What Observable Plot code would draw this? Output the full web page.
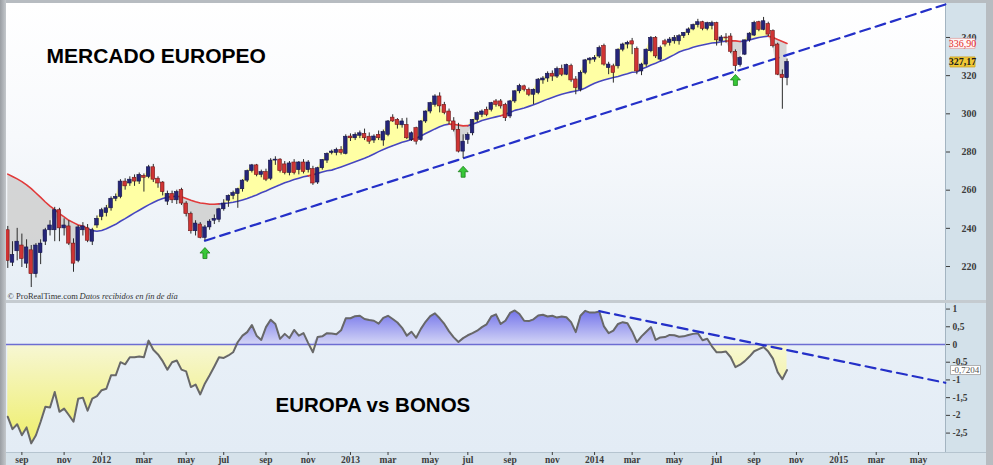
<!DOCTYPE html>
<html><head><meta charset="utf-8">
<script src="https://cdn.jsdelivr.net/npm/d3@7"></script>
<script src="https://cdn.jsdelivr.net/npm/@observablehq/plot@0.6"></script>
<style>
html,body{margin:0;padding:0;background:#fff}
#wrap{position:relative;width:993px;height:465px;background:#b7bcc1;overflow:hidden}
.bg,.plot{position:absolute;box-sizing:border-box}
.plot svg{display:block}
</style></head><body>
<div id="wrap">
  <div class="bg" style="left:0;top:0;width:6px;height:465px;background:linear-gradient(90deg,#9a9ea3,#c4c8cc)"></div>
  <div class="bg" style="left:6px;top:3px;width:939px;height:297px;background:linear-gradient(#ffffff 0%,#f7f9fc 45%,#e6eef5 100%)"></div>
  <div class="bg" style="left:945px;top:3px;width:41px;height:297px;background:#d3e1ea;border-left:1px solid #a3b4c1"></div>
  <div class="bg" style="left:6px;top:300px;width:980px;height:3px;background:#c5cbd0"></div>
  <div class="bg" style="left:6px;top:303px;width:939px;height:149px;background:linear-gradient(#eaf1f8,#e3ecf5)"></div>
  <div class="bg" style="left:945px;top:303px;width:41px;height:149px;background:#d3e1ea;border-left:1px solid #a3b4c1"></div>
  <div class="bg" style="left:6px;top:452px;width:980px;height:13px;background:#d6e2ea;border-top:1px solid #b5c4cf"></div>
  <div class="plot" id="up" style="left:6px;top:3px"></div>
  <div class="plot" id="low" style="left:6px;top:303px"></div>
</div>
<script>
// ---------- data (weekly, first week 2011-08-15) ----------
const firstWeek = "2011-08-15";
const open = [239,222,228,231,221.5,228.5,216,227,233,239,
 239,249.5,240,241,232,223,239,240,233,241.5,
 246,248,250.5,255.5,256.5,264.5,263.5,266.5,264.5,267.5,
 267,272,266,264,254,258,254.7,260,253,247.5,
 238.5,242,235,240.5,244,244.5,250,254.5,257,258,
 260.5,265,270,273,268,269.5,266,275.5,276,273.5,
 269,274.5,270.5,274.5,270.5,271,264,271.5,275.5,279.5,
 279.5,281,279,288.1,287.2,288.5,289.5,288,286,289,
 286,289,298,296.8,294,294.2,286.3,292.5,286.3,296,
 301.2,304.7,309.1,304.7,301.2,296,291.6,280.2,286.3,289.8,
 296.8,299.5,302.1,302.1,306.5,306.5,304.7,298.6,306.5,311.8,
 314.4,312.6,310,310.9,317.5,318.5,321,319.5,323.5,320.5,
 325,318,312.6,321.5,328,328.4,330,335.5,324,324.9,
 324.9,333.6,336.3,338,334,322.2,325.8,332.8,339.8,328.4,
 338,337.2,338,338,340.7,342.4,344.2,346.5,348,344.5,
 346,347.5,338,340,340.5,332.5,325.5,331,338.5,341,
 348,344,347,343.3,336.3,320.5,318.7];
const high = [241,233,240,237,234,231,232,234,240,244,
 251,250.5,245,244,234.5,241.5,243,242,240,246.5,
 250.5,252,256.5,258,265.5,266,267,268,269,268.5,
 273,273.5,267,264.5,259.5,259.5,260,261,254,248.5,
 244,243,241.5,244.5,247,250.5,255,257.5,259.5,261,
 265.5,270.5,273.5,273.5,270.5,271,276.5,277.5,276.5,275,
 275,276,275,276,275.5,272.5,272,276,279.5,281,
 282,282.8,289,289.5,290,291,292,290,289,291,
 291.5,296.5,299.5,297.5,297.5,297.7,290.5,293,296.5,301.5,
 306,310,311,306,302.5,298,295,289,290,297,
 301,302,303.5,306,307.5,307.5,305.5,307,312,315.5,
 315,313.5,313,318.5,319.5,322,322.5,324.5,325.5,326,
 326,319.5,322.5,328.5,329.5,330.5,335.5,336.5,327,326,
 334,337,338,339.5,335,326.5,334,340.5,340.5,335.5,
 339,340,341,341.5,342.5,345,347,349.5,348.5,348,
 348.5,348,341,342,342,333.5,330,338.5,342.5,348.5,
 348.5,350.5,348,344,337,323,328.7];
const low = [219,220,223,219.5,219,209,214,221,231,236,
 233,233,236,231,217,222,236,232.5,231,240,
 244,246,249,254,255.5,260,262,262,263,259,
 266,264,261,257,252,253,252.5,252,246,237,
 236,234.5,233.5,239,242,243,249,251,255,250.5,
 259,264,269,267,266.5,264.5,265,273,269,268,
 267.5,268,268,268.5,269,262.5,263,270.5,274,278.5,
 278,278.4,278.5,285.5,286,287,286,284,284.5,286,
 283,288,295.5,292,292.5,286.5,285.5,283.7,285.5,295,
 300,303.5,300.5,299.5,294.5,290.5,279.5,276.6,284,288.5,
 295.5,298,298.5,301,303.5,302.5,296,297.5,305.5,310.5,
 311.5,309,304.7,310,315.5,316.5,317,318.5,319.5,320,
 316.5,310,311.5,320.5,326,327,329,325,320.5,316.1,
 323.5,332.5,334,331,320.5,320,324.5,332,329,327.5,
 335,335.5,336.5,336,339.5,341,343.5,345,343.5,343.5,
 344,335.5,335.5,337,331.5,322.2,324.5,330.5,337.5,340.5,
 343,343.5,340.5,334.5,320,302.4,314.7];
const close = [223,226,233,224,230,216,231,232,239,241.5,
 249.5,240,241.5,232,221.5,240.5,241,233.5,239,245,
 249.5,250.5,255.5,256.5,264.5,262,265.5,264.5,268,266.5,
 272,265.5,263.5,259,258,254.7,259,253,247.5,238.5,
 242.5,235,240.5,243.5,245,250,253,257,258.5,260.5,
 265,270,273,268,269.5,265.5,275.5,276,270,269,
 274,269,274.5,269.6,274.5,263.5,271.5,275.8,279,280.2,
 281.1,279.5,288,287.2,289,289.8,287.2,285.4,288.1,287.2,
 290.5,296,296,294.2,296,287.2,289.8,285.4,296,301.2,
 305.6,309.1,303.9,300.4,296,291.6,280.2,285.4,289,296.8,
 300.4,301.2,299.5,305.6,304.7,303.9,297.7,306.5,311.8,314.5,
 312.6,310,312.6,317.9,318.5,321,319.5,323.5,320.5,325.5,
 317.5,313.5,321.5,328,328.9,329.3,334.5,325.8,325.8,321.4,
 333.6,336.3,337.2,336.3,322.2,325.8,333.6,339.8,330.1,334.5,
 336.3,338.9,339.8,340.7,342.4,344.2,346.5,348,344.5,347.5,
 347.5,338.5,340,339.5,332.5,325,329.3,338.5,342,347.7,
 344,348.5,341.5,335.4,320.5,318.7,327.17];
const movingAvg = [268.4,267.2,265.9,264.5,262.8,260.8,258.5,256.2,253.8,251.6,
 249.8,247.7,246,244.2,243,241.8,241.2,240,238.8,238.5,
 238.9,239.8,241,242.1,243.7,245.1,246.6,248.1,249.5,250.9,
 252.3,253.5,254.7,255.6,256.3,256.7,256.8,256.5,255.6,254.7,
 253.9,253.3,253,252.6,252.6,252.8,253,253.3,253.7,254.2,
 254.9,255.6,256.5,257.5,258.6,259.6,260.7,261.8,262.8,263.9,
 264.7,265.6,266.3,267,267.5,268.1,268.8,269.5,270.2,270.5,
 271.3,272.2,273.1,274,274.9,275.8,276.7,277.8,279,280.2,
 281.3,282.3,283.3,284.2,285.1,285.8,286.5,287.2,288.4,289.7,
 290.9,292.1,293.2,294.1,294.6,294.5,294.1,293.7,293.8,294.6,
 295.5,296.5,297.2,297.8,298.4,299,299.8,300.7,301.8,302.4,
 303.1,303.9,304.7,305.7,306.7,307.7,308.6,309.5,310.3,310.9,
 311.5,312,312.5,313.5,314.8,316,316.9,317.7,318.4,319,
 319.6,320.3,321,321.8,321.9,323.5,324.4,325.6,326.5,327.6,
 328.5,329.8,331,332.4,333.3,334,334.9,335.5,336.1,336.6,
 337.1,337.3,337.8,338.1,338.3,338.2,337.9,338.1,338.7,339.4,
 340,340.4,340.7,340,338.9,337.9,336.9];
const europaBonos = [-2.04,-2.39,-2.25,-2.56,-2.34,-2.79,-2.56,-2.18,-1.76,-1.78,
 -1.34,-1.90,-1.81,-1.99,-2.18,-1.53,-1.50,-1.87,-1.53,-1.46,
 -1.29,-1.25,-0.87,-0.87,-0.50,-0.56,-0.36,-0.36,-0.34,-0.36,
 0.11,-0.15,-0.28,-0.47,-0.71,-0.50,-0.45,-0.71,-0.76,-1.20,
 -1.13,-1.41,-1.10,-0.87,-0.62,-0.36,-0.38,-0.31,-0.22,0.07,
 0.25,0.35,0.55,0.25,0.13,0.49,0.70,0.58,0.16,0.30,
 0.18,0.41,0.25,0.32,0.04,-0.22,0.21,0.23,0.32,0.31,
 0.29,0.40,0.74,0.74,0.80,0.81,0.72,0.69,0.67,0.59,
 0.75,0.81,0.72,0.62,0.47,0.25,0.36,0.19,0.44,0.64,
 0.80,0.88,0.74,0.58,0.37,0.20,0.07,0.18,0.26,0.32,
 0.39,0.49,0.57,0.79,0.85,0.58,0.67,0.89,0.96,0.86,
 0.67,0.66,0.71,0.82,0.84,0.79,0.81,0.76,0.79,0.77,
 0.63,0.35,0.81,0.95,0.90,0.90,0.93,0.51,0.32,0.39,
 0.58,0.63,0.60,0.37,0.07,0.23,0.36,0.49,0.13,0.20,
 0.21,0.27,0.26,0.22,0.23,0.27,0.30,0.32,0.12,0.16,
 -0.05,-0.22,-0.22,-0.20,-0.36,-0.64,-0.57,-0.47,-0.34,-0.19,
 -0.13,-0.07,-0.20,-0.40,-0.78,-0.98,-0.7204];
const priceTicks = [220,240,260,280,300,320,340];
const oscTicks = [1,0.5,0,-0.5,-1,-1.5,-2,-2.5];
const monthNames = ["ene","feb","mar","abr","may","jun","jul","ago","sep","oct","nov","dic"];
const supportTrend = [{date:"2012-06-04", v:233.5},{date:"2015-06-13", v:357.3}];
const oscTrend = [{date:"2014-01-13", v:0.94},{date:"2015-06-13", v:-1.08}];
const arrowWeeks = [42, 97, 155];
const arrowLevels = [226.8, 269.4, 317.5];
const titleTop = "MERCADO EUROPEO";
const titleBottom = "EUROPA vs BONOS";

// ---------- derived tables ----------
const start = new Date(firstWeek + "T00:00Z");
const weeks = close.map((_, i) => d3.utcMonday.offset(start, i));
const candles = weeks.map((d, i) => ({date:d, o:open[i], h:high[i], l:low[i], c:close[i], m:movingAvg[i]}));
const oscData = weeks.map((d, i) => ({date:d, v:europaBonos[i]}));
const trendUp = supportTrend.map(d => ({date:new Date(d.date + "T00:00Z"), v:d.v}));
const trendOsc = oscTrend.map(d => ({date:new Date(d.date + "T00:00Z"), v:d.v}));
const arrows = arrowWeeks.map((w, k) => ({date:weeks[w], v:arrowLevels[k]}));
const xDomain = [new Date("2011-08-13T02:00Z"), new Date("2015-06-13T07:00Z")];
const tickDates = d3.utcMonth.range(new Date("2011-09-01T00:00Z"), new Date("2015-06-02T00:00Z"), 2)
  .map(m => d3.utcMonday.ceil(m));
const comma = (v, n) => v.toFixed(n).replace(".", ",");

// moving average split in runs by state (price above -> blue, below -> red)
const maAbove = [], maBelow = [];
let run = -1, prev = null;
candles.forEach((d, i) => {
  const s = d.c >= d.m ? "a" : "b";
  const tgt = s === "a" ? maAbove : maBelow;
  if (s !== prev) { run++; if (i > 0) tgt.push({date:candles[i-1].date, v:candles[i-1].m, run}); }
  tgt.push({date:d.date, v:d.m, run});
  prev = s;
});

const DAY = 864e5;
const serif = "'Liberation Serif','Times New Roman',serif";
const sans = "'Liberation Sans',Arial,sans-serif";
const boxSymbol = (w, h) => ({draw(ctx){ ctx.moveTo(-w/2,-h/2); ctx.lineTo(w/2,-h/2); ctx.lineTo(w/2,h/2); ctx.lineTo(-w/2,h/2); ctx.closePath(); }});
const arrowSymbol = {draw(ctx){ ctx.moveTo(0,-6); ctx.lineTo(5,-0.5); ctx.lineTo(2,-0.5); ctx.lineTo(2,5); ctx.lineTo(-2,5); ctx.lineTo(-2,-0.5); ctx.lineTo(-5,-0.5); ctx.closePath(); }};
const lastMA = movingAvg[movingAvg.length-1], lastClose = close[close.length-1], lastOsc = europaBonos[europaBonos.length-1];

const upper = Plot.plot({
  width: 980, height: 297,
  marginLeft: 0, marginRight: 41, marginTop: 0, marginBottom: 0,
  style: {background:"transparent", fontFamily:serif, fontSize:"10px", fontWeight:"bold", color:"#3c3c3c"},
  x: {domain: xDomain, axis: null},
  y: {domain: [202.2, 357.8], axis: "right", ticks: priceTicks, tickSize: 4, tickPadding: 12, tickFormat: d => String(d), label: null},
  marks: [
    Plot.areaY(candles, {x:"date", y1:"m", y2: d => Math.max(d.c, d.m), fill:"#ffffa4"}),
    Plot.areaY(candles, {x:"date", y1:"m", y2: d => Math.min(d.c, d.m), fill:"#cfcfcf", fillOpacity:0.85}),
    Plot.line(maAbove, {x:"date", y:"v", z:"run", stroke:"#4747bd", strokeWidth:1.6}),
    Plot.line(maBelow, {x:"date", y:"v", z:"run", stroke:"#e13a3a", strokeWidth:1.6}),
    Plot.line(trendUp, {x:"date", y:"v", stroke:"#2430c8", strokeWidth:2.2, strokeDasharray:"10,6"}),
    Plot.ruleX(candles, {x:"date", y1:"l", y2:"h", stroke:"#2b2b2b", strokeWidth:1}),
    Plot.rect(candles, {
      x1: d => new Date(+d.date - 2.7*DAY), x2: d => new Date(+d.date + 2.7*DAY),
      y1:"o", y2:"c",
      fill: d => d.c >= d.o ? "#25257a" : "#cf3434",
      stroke: d => d.c >= d.o ? "#141448" : "#701818", strokeWidth:0.6
    }),
    Plot.dot(arrows, {x:"date", y:"v", symbol: arrowSymbol, fill:"#37c837", stroke:"#1c7f1c", strokeWidth:0.8}),
    Plot.text([titleTop], {frameAnchor:"top-left", dx:40, dy:53, textAnchor:"start", lineAnchor:"middle", fontSize:21, fontWeight:"bold", fontFamily:sans, fill:"#000"}),
    Plot.text(["© ProRealTime.com"], {frameAnchor:"bottom-left", dx:1, dy:-4, textAnchor:"start", lineAnchor:"middle", fontSize:8.5, fontWeight:"normal", fontFamily:serif, fill:"#333"}),
    Plot.text(["Datos recibidos en fin de día"], {frameAnchor:"bottom-left", dx:73, dy:-4, textAnchor:"start", lineAnchor:"middle", fontSize:8.5, fontWeight:"normal", fontStyle:"italic", fontFamily:serif, fill:"#333"}),
    Plot.dot([lastMA], {y: d => d, frameAnchor:"right", dx:17, symbol: boxSymbol(25,10), fill:"#fff5f5", stroke:"#e3a5a5", strokeWidth:0.8}),
    Plot.text([lastMA], {y: d => d, frameAnchor:"right", dx:17, textAnchor:"middle", lineAnchor:"middle", text: d => comma(d, 2), fill:"#e02626", fontSize:10, fontWeight:"normal", fontFamily:serif}),
    Plot.dot([lastClose], {y: d => d, frameAnchor:"right", dx:17, symbol: boxSymbol(25,10), fill:"#f0c836", stroke:"#caa020", strokeWidth:0.8}),
    Plot.text([lastClose], {y: d => d, frameAnchor:"right", dx:17, textAnchor:"middle", lineAnchor:"middle", text: d => comma(d, 2), fill:"#1a1a1a", fontSize:10, fontWeight:"bold", fontFamily:serif})
  ]
});
document.getElementById("up").appendChild(upper);

function gradients() {
  const defs = d3.create("svg:defs");
  const gb = defs.append("linearGradient").attr("id","gBlue").attr("x1",0).attr("y1",0).attr("x2",0).attr("y2",1);
  gb.append("stop").attr("offset","0%").attr("stop-color","#7373ea");
  gb.append("stop").attr("offset","100%").attr("stop-color","#d3d5f6");
  const gy = defs.append("linearGradient").attr("id","gYellow").attr("x1",0).attr("y1",0).attr("x2",0).attr("y2",1);
  gy.append("stop").attr("offset","0%").attr("stop-color","#f7f7d4");
  gy.append("stop").attr("offset","100%").attr("stop-color","#eeee6c");
  return defs.node();
}

const lower = Plot.plot({
  width: 980, height: 162,
  marginLeft: 0, marginRight: 41, marginTop: 0, marginBottom: 13,
  style: {background:"transparent", fontFamily:serif, fontSize:"9.5px", fontWeight:"bold", color:"#3c3c3c"},
  x: {domain: xDomain, ticks: tickDates, tickSize: 3, tickPadding: 1, label: null,
      tickFormat: d => d.getUTCMonth() === 0 ? String(d.getUTCFullYear()) : monthNames[d.getUTCMonth()]},
  y: {domain: [-3.048, 1.157], axis: "right", ticks: oscTicks, tickSize: 4, tickPadding: 3, label: null,
      tickFormat: d => String(d).replace(".", ",")},
  marks: [
    gradients,
    Plot.areaY(oscData, {x:"date", y1:0, y2: d => Math.max(0, d.v), fill:"url(#gBlue)"}),
    Plot.areaY(oscData, {x:"date", y1:0, y2: d => Math.min(0, d.v), fill:"url(#gYellow)"}),
    Plot.ruleY([0], {stroke:"#6d6dd2", strokeWidth:1.3}),
    Plot.line(oscData, {x:"date", y:"v", stroke:"#686868", strokeWidth:2}),
    Plot.line(trendOsc, {x:"date", y:"v", stroke:"#2430c8", strokeWidth:2.2, strokeDasharray:"10,6"}),
    Plot.text([titleBottom], {frameAnchor:"top-left", dx:269, dy:102, textAnchor:"start", lineAnchor:"middle", fontSize:20.5, fontWeight:"bold", fontFamily:sans, fill:"#000"}),
    Plot.dot([lastOsc], {y: d => d, frameAnchor:"right", dx:20, symbol: boxSymbol(30,9), fill:"#ffffff", stroke:"#a0a0a0", strokeWidth:0.8}),
    Plot.text([lastOsc], {y: d => d, frameAnchor:"right", dx:20, textAnchor:"middle", lineAnchor:"middle", text: d => comma(d, 4), fill:"#555", fontSize:9, fontWeight:"normal", fontFamily:serif})
  ]
});
document.getElementById("low").appendChild(lower);
</script>
</body></html>
